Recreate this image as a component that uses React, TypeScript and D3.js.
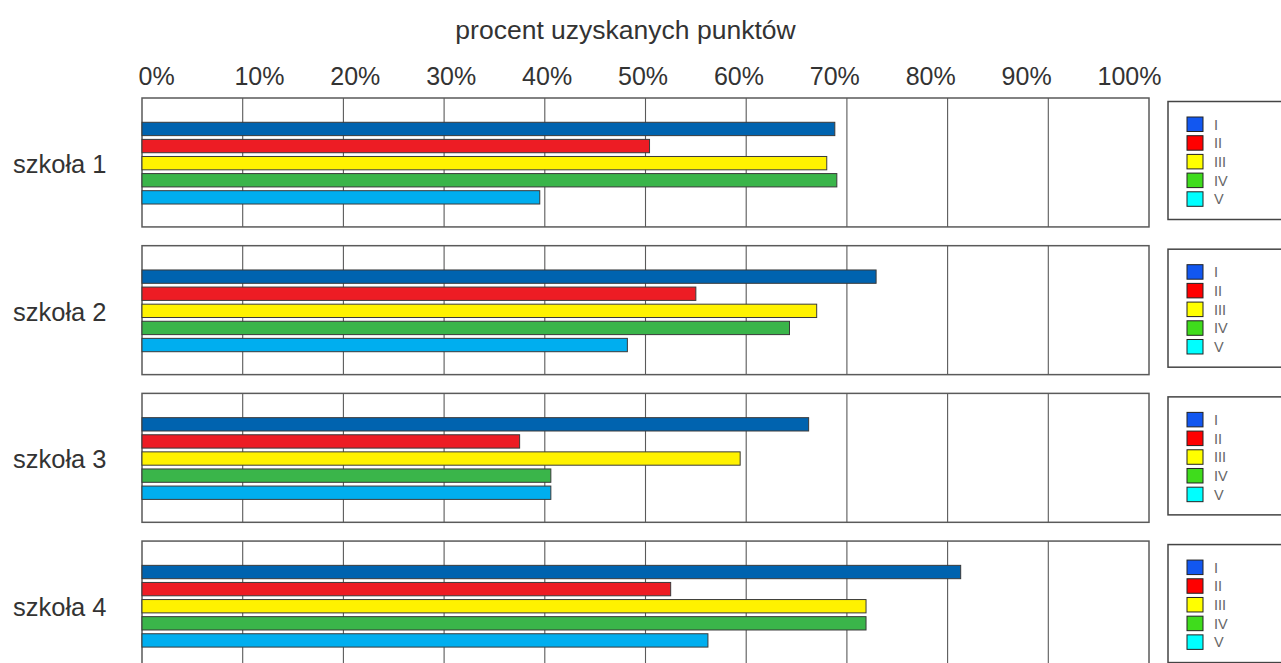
import * as d3 from "d3";
import { useEffect, useRef } from "react";

const schools = ["szkoła 1", "szkoła 2", "szkoła 3", "szkoła 4"];
const series = ["I", "II", "III", "IV", "V"];
const valuesI = [68.8, 72.9, 66.2, 81.3];
const valuesII = [50.4, 55.0, 37.5, 52.5];
const valuesIII = [68.0, 67.0, 59.4, 71.9];
const valuesIV = [69.0, 64.3, 40.6, 71.9];
const valuesV = [39.5, 48.2, 40.6, 56.2];
const ticks = [0, 10, 20, 30, 40, 50, 60, 70, 80, 90, 100];
const axisTitle = "procent uzyskanych punktów";

const barColors = ["#0063af", "#ed1c24", "#fff200", "#3ab54a", "#00aeef"];
const legendColors = ["#1257f0", "#ff0000", "#ffff00", "#3fdc1c", "#00ffff"];

export default function App() {
  const ref = useRef(null);

  useEffect(() => {
    const svg = d3.select(ref.current);
    svg.selectAll("*").remove();
    const font = "'Liberation Sans', Arial, sans-serif";
    const allValues = [valuesI, valuesII, valuesIII, valuesIV, valuesV];

    const x = d3.scaleLinear().domain([0, 100]).range([142, 1149]);
    // tick labels sit slightly off the grid in the original, drifting left
    const xLabel = d3.scaleLinear().domain([0, 100]).range([138, 1097]);
    const panel = d3.scaleBand().domain(schools).range([98, 670]).paddingInner(0.127).paddingOuter(0);
    const bar = d3.scaleBand().domain(series).range([22.4, 107.9]).paddingInner(0.22).paddingOuter(0.11);

    svg.append("text")
      .attr("x", 625.5).attr("y", 39)
      .attr("text-anchor", "middle")
      .attr("font-family", font).attr("font-size", 26.5).attr("fill", "#333")
      .text(axisTitle);

    const axis = svg.append("g")
      .attr("transform", "translate(0,85)")
      .call(d3.axisTop(xLabel).tickValues(ticks).tickSize(0).tickPadding(0).tickFormat(d => d + "%"));
    axis.select(".domain").remove();
    axis.selectAll("text")
      .attr("text-anchor", "start")
      .attr("font-family", font).attr("font-size", 25).attr("fill", "#333")
      .attr("dy", 0);

    schools.forEach((s, i) => {
      const top = panel(s);
      const h = panel.bandwidth();
      const g = svg.append("g");

      g.append("rect")
        .attr("x", x(0)).attr("y", top)
        .attr("width", x(100) - x(0)).attr("height", h)
        .attr("fill", "#fff").attr("stroke", "#5a5a5a").attr("stroke-width", 1.5);

      g.selectAll("line.grid")
        .data(ticks.slice(1, -1))
        .join("line")
        .attr("class", "grid")
        .attr("x1", d => x(d)).attr("x2", d => x(d))
        .attr("y1", top).attr("y2", top + h)
        .attr("stroke", "#5a5a5a").attr("stroke-width", 1.1);

      g.selectAll("rect.bar")
        .data(series.map((k, j) => ({ k, j, v: allValues[j][i] })))
        .join("rect")
        .attr("class", "bar")
        .attr("x", x(0))
        .attr("y", d => top + bar(d.k))
        .attr("width", d => x(d.v) - x(0))
        .attr("height", bar.bandwidth())
        .attr("fill", d => barColors[d.j])
        .attr("stroke", "#3a3a3a").attr("stroke-width", 1);

      svg.append("text")
        .attr("x", 13).attr("y", top + 75)
        .attr("font-family", font).attr("font-size", 25.5).attr("fill", "#333")
        .text(s);

      const lg = svg.append("g");
      lg.append("rect")
        .attr("x", 1168).attr("y", top + 3.5)
        .attr("width", 150).attr("height", 118)
        .attr("fill", "#fff").attr("stroke", "#444").attr("stroke-width", 1.5);
      series.forEach((k, j) => {
        const yy = top + 19 + j * 18.7;
        lg.append("rect")
          .attr("x", 1187).attr("y", yy)
          .attr("width", 16).attr("height", 14.5)
          .attr("fill", legendColors[j]).attr("stroke", "#222").attr("stroke-width", 1);
        lg.append("text")
          .attr("x", 1214).attr("y", yy + 12.5)
          .attr("font-family", font).attr("font-size", 14.5).attr("fill", "#666")
          .text(k);
      });
    });
  }, []);

  return (
    <svg
      ref={ref}
      width={1281}
      height={663}
      style={{ position: "absolute", left: 0, top: 0, background: "#fff" }}
    ></svg>
  );
}
